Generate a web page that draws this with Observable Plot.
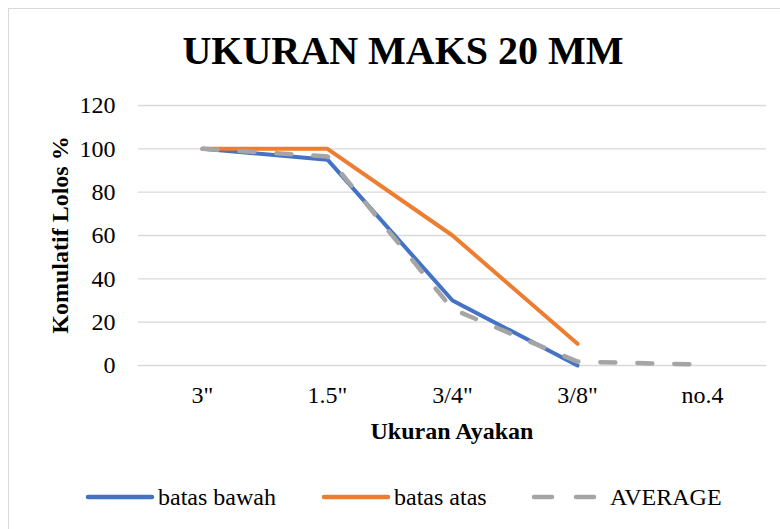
<!DOCTYPE html>
<html>
<head>
<meta charset="utf-8">
<script src="https://cdn.jsdelivr.net/npm/d3@7"></script>
<script src="https://cdn.jsdelivr.net/npm/@observablehq/plot@0.6"></script>
<style>
  body { margin: 0; font-size: 24px; }
  .s { font-family: "Liberation Serif", serif; }
</style>
</head>
<body class="s">
<div id="wrap" class="s" style="position:relative;width:780px;height:529px;overflow:hidden;font-family:'Liberation Serif'">
  <div style="position:absolute;left:8px;top:8px;width:820px;height:600px;border:1.5px solid #d9d9d9;box-sizing:border-box"></div>
  <div id="chart" style="position:absolute;left:0;top:0"></div>
</div>
<script>
const title = "UKURAN MAKS 20 MM";
const xTitle = "Ukuran Ayakan";
const yTitle = "Komulatif Lolos %";
const sieves = ["3\"", "1.5\"", "3/4\"", "3/8\"", "no.4"];
const yTicks = [0, 20, 40, 60, 80, 100, 120];
const seriesNames = ["batas bawah", "batas atas", "AVERAGE"];
const batasBawah = [100, 95, 30, 0];
const batasAtas = [100, 100, 60, 10];
const average = [100, 96.5, 26, 1.8, 0.4];
const colors = ["#4472C4", "#ED7D31", "#A5A5A5"];

const seriesValues = [batasBawah, batasAtas, average];
const rows = [];
seriesValues.forEach((vals, i) => {
  vals.forEach((v, j) => rows.push({series: seriesNames[i], sieve: sieves[j], value: v}));
});

const plot = Plot.plot({
  width: 780,
  height: 529,
  marginLeft: 138,
  marginRight: 14,
  marginTop: 105,
  marginBottom: 164,
  style: {fontFamily: "'Liberation Serif'", fontSize: "24px", background: "transparent"},
  x: {type: "point", domain: sieves, padding: 0.5, label: null},
  y: {domain: [0, 120], label: null},
  marks: [
    Plot.gridY(yTicks, {stroke: "#d9d9d9", strokeOpacity: 1, strokeWidth: 1.3}),
    Plot.axisY(yTicks, {tickSize: 0, tickPadding: 23, fontSize: 24, label: null, fill: "#000"}),
    Plot.axisX({tickSize: 0, tickPadding: 20, fontSize: 24, label: null, fill: "#000"}),
    Plot.line(rows.filter(d => d.series === seriesNames[0]), {x: "sieve", y: "value", stroke: colors[0], strokeWidth: 4, strokeLinecap: "round", strokeLinejoin: "round"}),
    Plot.line(rows.filter(d => d.series === seriesNames[1]), {x: "sieve", y: "value", stroke: colors[1], strokeWidth: 4, strokeLinecap: "round", strokeLinejoin: "round"}),
    Plot.line(rows.filter(d => d.series === seriesNames[2]), {x: "sieve", y: "value", stroke: colors[2], strokeWidth: 4.5, strokeDasharray: "15 22", strokeLinecap: "round", strokeLinejoin: "round"})
  ]
});

const svg = d3.select(plot);
svg.append("text").attr("x", 403).attr("y", 64).attr("text-anchor", "middle")
  .attr("style", "font-family:'Liberation Serif';font-weight:bold;font-size:40px").attr("fill", "#000").text(title);
svg.append("text").attr("x", 452).attr("y", 439).attr("text-anchor", "middle")
  .attr("style", "font-family:'Liberation Serif';font-weight:bold;font-size:24px").attr("fill", "#000").text(xTitle);
svg.append("text").attr("transform", "translate(68,235) rotate(-90)").attr("text-anchor", "middle")
  .attr("style", "font-family:'Liberation Serif';font-weight:bold;font-size:24px").attr("fill", "#000").text(yTitle);

document.getElementById("chart").appendChild(plot);

// legend
const legLefts = [84, 320, 530];
const wrap = document.getElementById("wrap");
seriesNames.forEach((name, i) => {
  const item = document.createElement("div");
  item.setAttribute("style", `position:absolute;top:479px;left:${legLefts[i]}px;height:36px;display:flex;align-items:center;font-family:'Liberation Serif';font-size:24px;color:#000;white-space:nowrap`);
  const swatch = i === 2
    ? `<line x1="4" y1="10" x2="22" y2="10" stroke="${colors[i]}" stroke-width="4.5" stroke-linecap="round"/><line x1="46" y1="10" x2="64" y2="10" stroke="${colors[i]}" stroke-width="4.5" stroke-linecap="round"/>`
    : `<line x1="4" y1="10" x2="68" y2="10" stroke="${colors[i]}" stroke-width="4.5" stroke-linecap="round"/>`;
  item.innerHTML = `<svg width="74" height="20" style="display:block">${swatch}</svg><span style="font-family:'Liberation Serif';margin-left:${i === 2 ? 6 : 0}px">${name}</span>`;
  wrap.appendChild(item);
});
</script>
</body>
</html>
